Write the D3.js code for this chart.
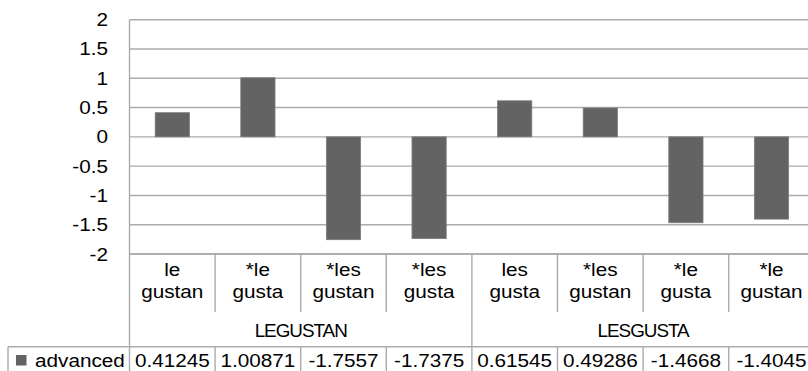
<!DOCTYPE html>
<html lang="en">
<head>
<meta charset="UTF-8">
<title>advanced - LE GUSTAN / LES GUSTA</title>
<script src="https://d3js.org/d3.v7.min.js"></script>
<style>
  body { margin: 0; background: #fff; }
  svg text { font-family: "Liberation Sans", Arial, sans-serif; fill: #000; }
</style>
</head>
<body>
<svg width="808" height="371"></svg>
<script>
// data
const categories = ["le gustan", "*le gusta", "*les gustan", "*les gusta",
                    "les gusta", "*les gustan", "*le gusta", "*le gustan"];
const groups = ["LEGUSTAN", "LESGUSTA"];
const groupSize = 4;
const seriesName = "advanced";
const values = [0.41245, 1.00871, -1.7557, -1.7375, 0.61545, 0.49286, -1.4668, -1.4045];
const yTicks = [2, 1.5, 1, 0.5, 0, -0.5, -1, -1.5, -2];

const svg = d3.select("svg");
const plotLeft = 129.5, plotTop = 19.7, plotBottom = 254, step = 85.6;
const plotRight = plotLeft + step * categories.length; // runs past the edge like the original
const lineCol = "#ababab";
const fs = 18.5, sx = 1.12;

const x = d3.scaleBand().domain(d3.range(categories.length))
    .range([plotLeft, plotRight]).paddingInner(0.6).paddingOuter(0.3);
const col = d3.scaleBand().domain(d3.range(categories.length)).range([plotLeft, plotRight]);
const y = d3.scaleLinear().domain([-2, 2]).range([plotBottom, plotTop]);

// helper: horizontally stretched text like the source image
function label(g, tx, ty, str, anchor) {
  g.append("text")
    .attr("transform", `translate(${tx},${ty}) scale(${sx},1)`)
    .attr("text-anchor", anchor || "middle")
    .style("font-size", fs + "px")
    .text(str);
}

// gridlines
svg.append("g").selectAll("line").data(yTicks).join("line")
    .attr("x1", plotLeft).attr("x2", plotRight)
    .attr("y1", d => y(d)).attr("y2", d => y(d))
    .attr("stroke", lineCol).attr("stroke-width", 1.4);

// y tick labels
const yl = svg.append("g");
yTicks.forEach(t => label(yl, 108, y(t) + 6.5, String(t), "end"));

// bars
svg.append("g").selectAll("rect").data(values).join("rect")
    .attr("x", (d, i) => x(i))
    .attr("width", x.bandwidth())
    .attr("y", d => y(Math.max(0, d)))
    .attr("height", d => Math.abs(y(d) - y(0)))
    .attr("fill", "#636363")
    .attr("stroke", "#7d7d7d").attr("stroke-width", 0.8);

// table lines
const rowTop = 346.7, catRowEnd = 312, H = 371;
const tl = svg.append("g").attr("stroke", lineCol).attr("stroke-width", 1.4);
tl.append("line").attr("x1", plotLeft).attr("x2", plotLeft).attr("y1", plotTop).attr("y2", H);
tl.append("line").attr("x1", plotLeft).attr("x2", plotRight).attr("y1", plotBottom).attr("y2", plotBottom);
tl.append("line").attr("x1", 8).attr("x2", plotRight).attr("y1", rowTop).attr("y2", rowTop);
tl.append("line").attr("x1", 8).attr("x2", 8).attr("y1", rowTop).attr("y2", H);
d3.range(1, categories.length).forEach(i => {
  const xx = col(i);
  if (i % groupSize === 0) {
    tl.append("line").attr("x1", xx).attr("x2", xx).attr("y1", plotBottom).attr("y2", H);
  } else {
    tl.append("line").attr("x1", xx).attr("x2", xx).attr("y1", plotBottom).attr("y2", catRowEnd);
    tl.append("line").attr("x1", xx).attr("x2", xx).attr("y1", rowTop).attr("y2", H);
  }
});

// category labels (two lines)
const cl = svg.append("g");
categories.forEach((c, i) => {
  const k = c.indexOf(" ");
  const cx = col(i) + col.bandwidth() / 2;
  label(cl, cx, 275.5, c.slice(0, k));
  label(cl, cx, 297.5, c.slice(k + 1));
});

// group labels
const gl = svg.append("g");
groups.forEach((g, j) => {
  const gx = col(j * groupSize) + col.bandwidth() * groupSize / 2;
  gl.append("text")
    .attr("transform", `translate(${gx},336.5) scale(1.02,1)`)
    .attr("text-anchor", "middle")
    .style("font-size", fs + "px")
    .style("letter-spacing", "-1px")
    .text(g);
});

// data row: legend key + values
const dr = svg.append("g");
dr.append("rect").attr("x", 16).attr("y", 355).attr("width", 10.5).attr("height", 10.5)
    .attr("fill", "#636363");
label(dr, 35, 367, seriesName, "start");
values.forEach((v, i) => label(dr, col(i) + col.bandwidth() / 2, 367, String(v)));
</script>
</body>
</html>
